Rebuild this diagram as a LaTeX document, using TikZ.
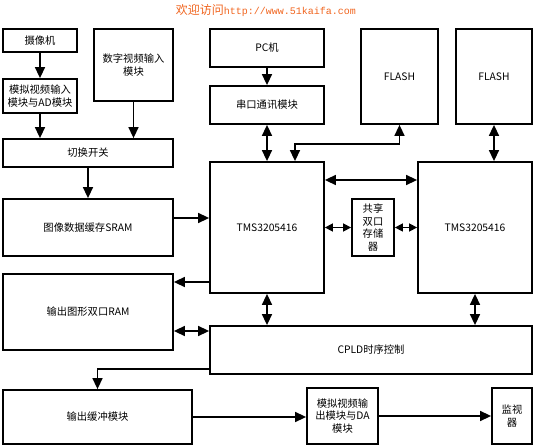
\documentclass[tikz,border=0pt]{standalone}
\usepackage{fontspec}
\newfontfamily\cjk{Noto Sans CJK SC}
\newfontfamily\monof{Liberation Mono}
\usetikzlibrary{arrows.meta}
\definecolor{hdr}{RGB}{240,100,30}
\tikzset{
  box/.style={draw=black, line width=1.8pt, inner sep=1pt, align=center,
    font=\cjk\fontsize{10.3}{12.5}\selectfont},
  arr/.style={line width=1.5pt, -{Triangle[length=11pt,width=10pt]}},
  darr/.style={line width=1.5pt, {Triangle[length=11pt,width=10pt]}-{Triangle[length=11pt,width=10pt]}},
  sarr/.style={line width=1.5pt, {Triangle[length=8pt,width=8pt]}-{Triangle[length=8pt,width=8pt]}}
}
\begin{document}
\begin{tikzpicture}[x=1pt,y=-1pt]
\useasboundingbox (0,0) rectangle (533,446);
\node[font=\cjk\fontsize{12}{14}\selectfont, text=hdr, inner sep=0pt] (hdr) at (266,10.5) {欢迎访问{\monof\fontsize{10}{12}\selectfont http://www.51kaifa.com}};
\node[box, minimum width=74pt, minimum height=23pt] (cam) at (40,40.5) {摄像机};
\node[box, minimum width=74pt, minimum height=34pt] (ana) at (40,96) {模拟视频输入\\模块与AD模块};
\node[box, minimum width=79pt, minimum height=72pt] (dig) at (133.5,65) {数字视频输入\\模块};
\node[box, minimum width=170pt, minimum height=28pt] (sw) at (88,153) {切换开关};
\node[box, minimum width=170pt, minimum height=57pt] (sram) at (88,227.5) {图像数据缓存SRAM};
\node[box, minimum width=114pt, minimum height=38pt] (pc) at (267,48) {PC机};
\node[box, minimum width=114pt, minimum height=38pt] (uart) at (267,105) {串口通讯模块};
\node[box, minimum width=77pt, minimum height=95pt] (fl1) at (399.5,76.5) {FLASH};
\node[box, minimum width=76pt, minimum height=95pt] (fl2) at (494,76.5) {FLASH};
\node[box, minimum width=114pt, minimum height=131pt] (dspL) at (267,227.5) {TMS3205416};
\node[box, minimum width=114pt, minimum height=131pt] (dspR) at (475,227.5) {TMS3205416};
\node[box, minimum width=42pt, minimum height=57pt] (shm) at (373,227.5) {共享\\双口\\存储\\器};
\node[box, minimum width=170pt, minimum height=76pt] (oram) at (88,312) {输出图形双口RAM};
\node[box, minimum width=322pt, minimum height=48pt] (cpld) at (371,350) {CPLD时序控制};
\node[box, minimum width=189pt, minimum height=54pt] (obuf) at (97.5,417) {输出缓冲模块};
\node[box, minimum width=71pt, minimum height=56pt] (dac) at (342.5,416) {模拟视频输\\出模块与DA\\模块};
\node[box, minimum width=40pt, minimum height=56pt] (mon) at (512,416) {监视\\器};
% connectors
\draw[arr] (cam) -- (ana);
\draw[arr] (ana.south) -- (ana.south |- sw.north);
\draw[arr] (dig.south) -- (dig.south |- sw.north);
\draw[arr] (sw) -- (sram);
\coordinate (s1) at ([yshift=9.5pt]sram.east);
\draw[arr] (s1) -- (s1 -| dspL.west);
\draw[arr] (pc) -- (uart);
\draw[darr] (uart) -- (dspL);
\draw[darr] (fl1.south) -- ++(0,19) -| ([xshift=28pt]dspL.north);
\coordinate (d1) at ([yshift=47.5pt]dspL.east);
\draw[darr] (d1) -- (d1 -| dspR.west);
\draw[sarr] (dspL.east) -- (shm.west);
\draw[sarr] (shm.east) -- (dspR.west);
\draw[darr] (fl2.south) -- (fl2.south |- dspR.north);
\coordinate (o1) at ([yshift=-54.5pt]dspL.west);
\draw[arr] (o1) -- (o1 -| oram.east);
\coordinate (c1) at ([yshift=19pt]cpld.west);
\draw[darr] (c1) -- (c1 -| oram.east);
\draw[darr] (dspL.south) -- (dspL.south |- cpld.north);
\draw[darr] (dspR.south) -- (dspR.south |- cpld.north);
\coordinate (c2) at ([yshift=-19pt]cpld.west);
\draw[arr] (c2) -| (obuf.north);
\draw[arr] (obuf.east) -- (obuf.east -| dac.west);
\draw[arr] (dac) -- (mon);
\end{tikzpicture}
\end{document}
